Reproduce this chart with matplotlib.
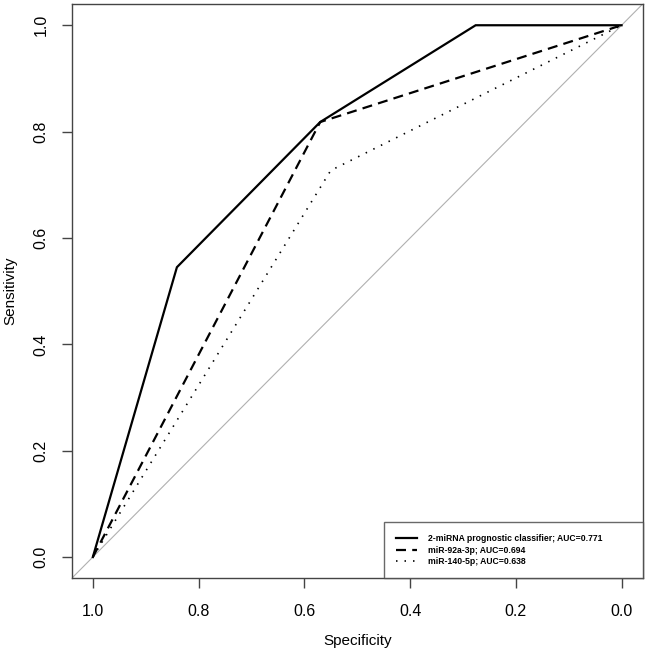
"""ROC curves for the 2-miRNA prognostic classifier and its two component miRNAs."""

import matplotlib
import matplotlib.pyplot as plt

matplotlib.use("Agg")

plt.rcParams["font.family"] = ["Liberation Sans", "DejaVu Sans"]

# ROC vertices (specificity, sensitivity)
classifier_spec = [1.0, 0.841, 0.570, 0.276, 0.0]
classifier_sens = [0.0, 0.545, 0.818, 1.0, 1.0]

mir92_spec = [1.0, 0.570, 0.0]
mir92_sens = [0.0, 0.818, 1.0]

mir140_spec = [1.0, 0.55, 0.0]
mir140_sens = [0.0, 0.727, 1.0]

labels = [
    "2-miRNA prognostic classifier; AUC=0.771",
    "miR-92a-3p; AUC=0.694",
    "miR-140-5p; AUC=0.638",
]

ticks = [1.0, 0.8, 0.6, 0.4, 0.2, 0.0]
frame_col = "#444444"

fig = plt.figure(figsize=(6.5, 6.52), dpi=100)
ax = fig.add_axes([0.1103, 0.113, 0.8785, 0.8809])

# chance diagonal
ax.plot([1.04, -0.04], [-0.04, 1.04], color="#b0b0b0", lw=0.8, zorder=1)

ax.plot(classifier_spec, classifier_sens, color="black", lw=1.6,
        solid_joinstyle="miter", label=labels[0])
ax.plot(mir92_spec, mir92_sens, color="black", lw=1.6,
        dashes=(4.5, 2.8), label=labels[1])
ax.plot(mir140_spec, mir140_sens, color="black", lw=1.2,
        dashes=(0.9, 4.2), label=labels[2])

ax.set_xlim(1.04, -0.04)
ax.set_ylim(-0.04, 1.04)
ax.set_xticks(ticks)
ax.set_yticks(ticks)
ax.set_xticklabels([f"{t:.1f}" for t in ticks])
ax.set_yticklabels([f"{t:.1f}" for t in ticks], rotation=90, va="center")

ax.tick_params(axis="both", direction="out", length=7.5, width=1,
               color=frame_col, labelsize=11.5, labelcolor="black")
ax.tick_params(axis="x", pad=11)
ax.tick_params(axis="y", pad=9)
for sp in ax.spines.values():
    sp.set_color(frame_col)
    sp.set_linewidth(1)

ax.set_xlabel("Specificity", fontsize=11, labelpad=11)
ax.set_ylabel("Sensitivity", fontsize=11, labelpad=12)

leg = ax.legend(
    loc="lower left",
    bbox_to_anchor=(0.547, 0.0, 0.453, 0.09),
    mode="expand",
    borderaxespad=0,
    frameon=True,
    fancybox=False,
    prop={"family": "Liberation Sans", "weight": "bold", "size": 6.2},
    handlelength=2.4,
    handletextpad=1.3,
    labelspacing=0.3,
    borderpad=1.4,
)
leg.get_frame().set_edgecolor(frame_col)
leg.get_frame().set_linewidth(1)

fig.savefig("out.png", dpi=100)
